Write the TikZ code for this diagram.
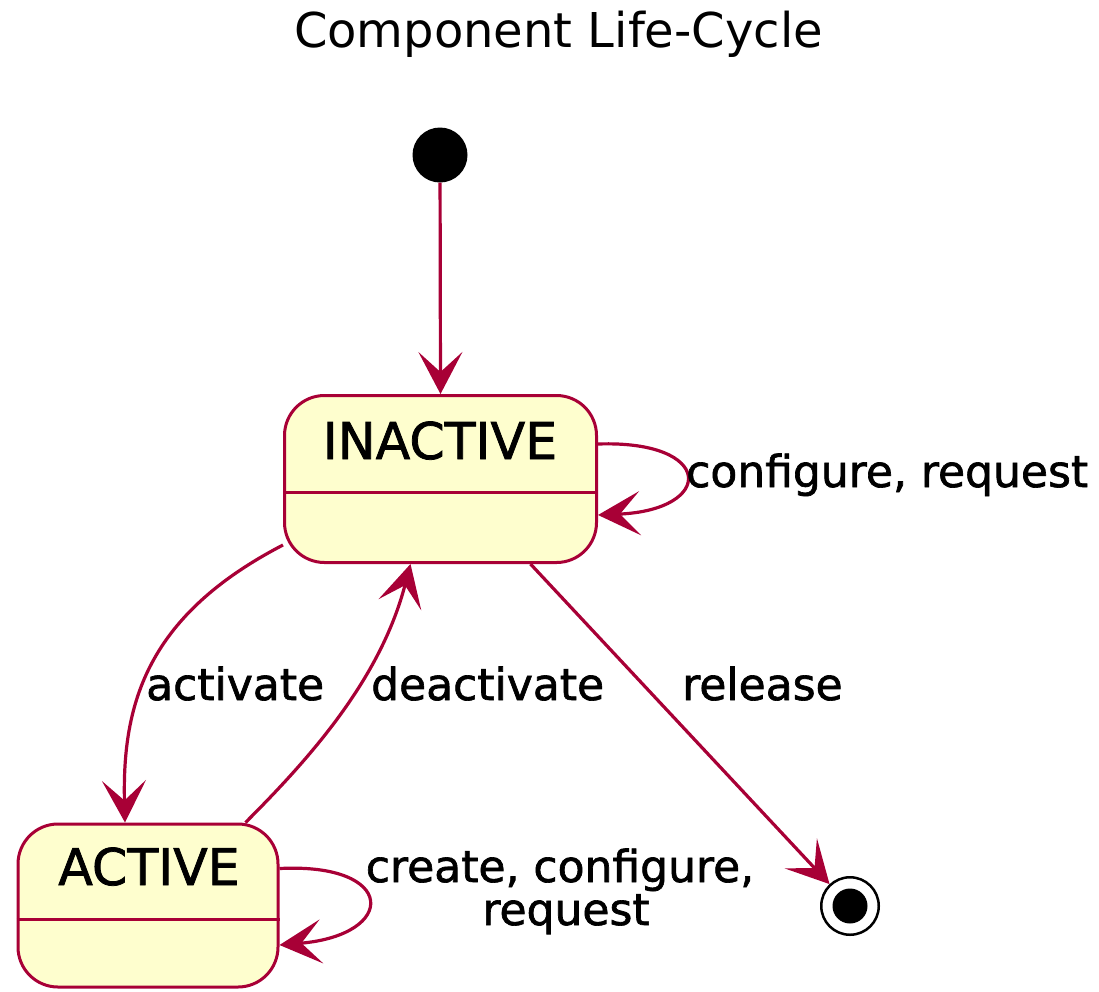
\documentclass[tikz,border=0pt]{standalone}
\usepackage{fontspec}
\setmainfont{DejaVu Sans}
\newfontfamily\heavyfont[FakeBold=1.5]{DejaVu Sans}
\usetikzlibrary{arrows.meta,calc}
\definecolor{plred}{HTML}{A80036}
\definecolor{plyellow}{HTML}{FEFECE}
\begin{document}
\begin{tikzpicture}[x=1pt,y=-1pt,
  statebox/.style={rectangle, rounded corners=40pt, draw=plred, fill=plyellow, line width=3pt, inner sep=0pt},
  statename/.style={font=\heavyfont\fontsize{50.6}{60}\selectfont, anchor=base, inner sep=0pt},
  lbl/.style={font=\heavyfont\fontsize{44}{50}\selectfont, inner sep=0pt},
  divider/.style={draw=plred, line width=3pt},
  arr/.style={draw=plred, line width=3.2pt, -{Stealth[length=42pt,width=44pt,inset=20pt]}},
  initnode/.style={circle, fill=black, minimum size=55pt, inner sep=0pt},
  finalring/.style={circle, draw=black, line width=2.5pt, fill=white, minimum size=57.5pt, inner sep=0pt},
  finaldot/.style={circle, fill=black, minimum size=35pt, inner sep=0pt}
]
\useasboundingbox (0,0) rectangle (1099,991);

\node[font=\fontsize{48}{58}\selectfont, anchor=base, inner sep=0pt] (title) at (558.5,47) {Component Life-Cycle};

\node[initnode] (init) at (440,155) {};

\node[statebox, minimum width=312pt, minimum height=167pt] (inactive) at (440.5,479) {};
\node[statename] (inactiveName) at (440,459) {INACTIVE};
\draw[divider] ([yshift=-13pt]inactive.west) -- ([yshift=-13pt]inactive.east);

\node[statebox, minimum width=260pt, minimum height=163pt] (active) at (148,905.5) {};
\node[statename] (activeName) at (149,885) {ACTIVE};
\draw[divider] ([yshift=-13.5pt]active.west) -- ([yshift=-13.5pt]active.east);

\node[finalring] (final) at (850,906) {};
\node[finaldot] (finalDot) at (final.center) {};

\draw[arr] (init) -- (inactive.north);
\draw[arr] ([yshift=35pt]inactive.east) .. controls +(117,-4) and +(117,-5) .. ([yshift=-36pt]inactive.east);
\draw[arr] ([yshift=-66pt]inactive.west) .. controls +(-135,70) and +(-3,-120) .. ([xshift=-23pt]active.north);
\draw[arr] ([xshift=-34pt]active.north east) .. controls +(65,-65) and +(-30,115) .. ([xshift=-30pt]inactive.south);
\draw[arr] ([xshift=90pt]inactive.south) -- (final);
\draw[arr] ([yshift=37pt]active.east) .. controls +(118,-6) and +(118,-10) .. ([yshift=-39.5pt]active.east);

\node[lbl, anchor=base west] (lconf) at (686,487) {configure, request};
\node[lbl, anchor=base west] (lact) at (146,700) {activate};
\node[lbl, anchor=base west] (ldeact) at (371,700) {deactivate};
\node[lbl, anchor=base west] (lrel) at (682,700) {release};
\node[lbl, anchor=base] (lcreateA) at (560,882) {create, configure,};
\node[lbl, anchor=base] (lcreateB) at (566,925) {request};
\end{tikzpicture}
\end{document}
